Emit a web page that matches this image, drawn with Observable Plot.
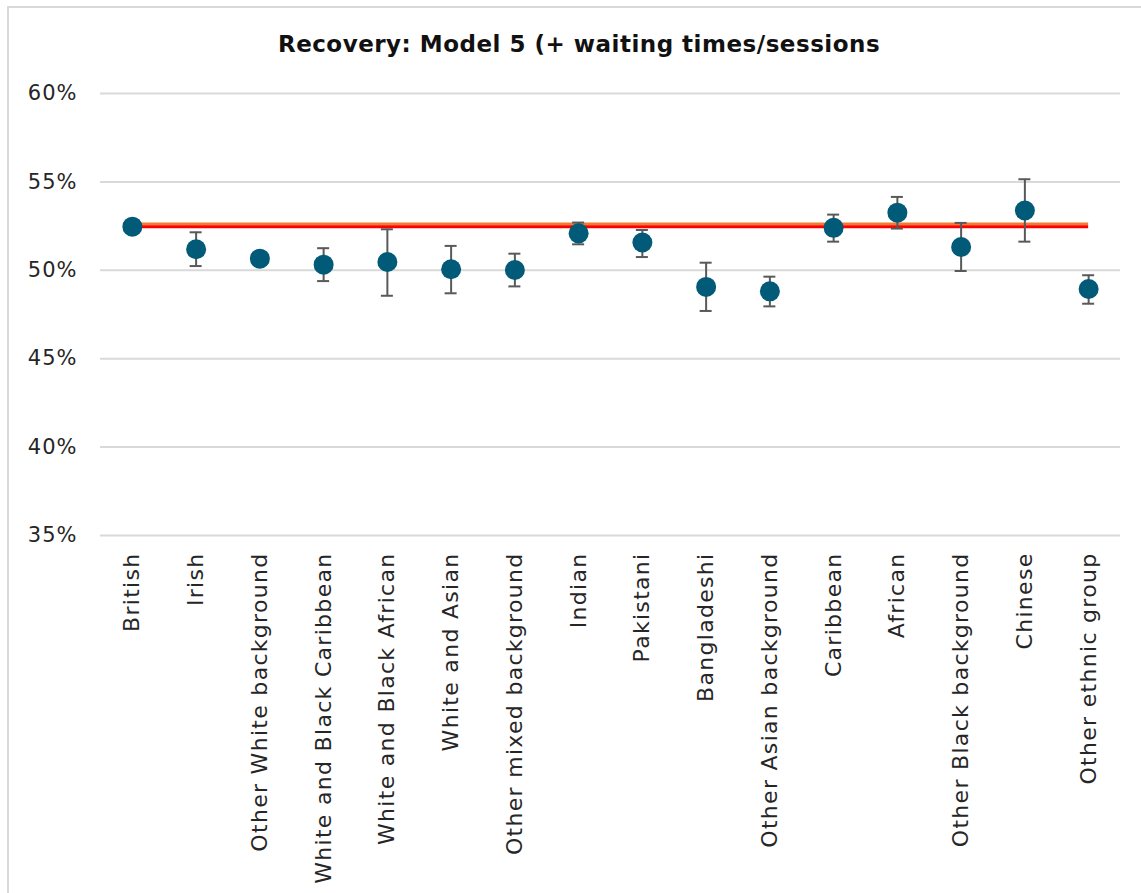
<!DOCTYPE html>
<html>
<head>
<meta charset="utf-8">
<script src="https://cdn.jsdelivr.net/npm/d3@7"></script>
<script src="https://cdn.jsdelivr.net/npm/@observablehq/plot@0.6"></script>
<style>
  html, body { margin: 0; padding: 0; background: #fff; }
  #wrap { position: relative; width: 1141px; height: 893px; overflow: hidden; background: #fff; }
  #frame { position: absolute; left: 7px; top: 6px; width: 1300px; height: 1000px; border: 2px solid #d9d9d9; box-sizing: border-box; }
  #title { position: absolute; left: 0; width: 1158px; top: 31px; text-align: center; font-family: "DejaVu Sans", sans-serif; font-weight: bold; font-size: 23px; letter-spacing: 0.5px; color: #111; }
  #chart { position: absolute; left: 0; top: 0; }
  g[aria-label="x-axis tick label"] text { letter-spacing: 1.3px; }
  g[aria-label="y-axis tick label"] text { letter-spacing: 1px; }
</style>
</head>
<body>
<div id="wrap">
  <div id="frame"></div>
  <div id="chart"></div>
  <div id="title">Recovery: Model 5 (+ waiting times/sessions</div>
</div>
<script>
const categories = [
  "British", "Irish", "Other White background", "White and Black Caribbean",
  "White and Black African", "White and Asian", "Other mixed background",
  "Indian", "Pakistani", "Bangladeshi", "Other Asian background",
  "Caribbean", "African", "Other Black background", "Chinese", "Other ethnic group"
];
const estimates = [52.47, 51.19, 50.66, 50.32, 50.47, 50.06, 50.02, 52.09, 51.57, 49.06, 48.81, 52.40, 53.26, 51.32, 53.38, 48.94];
const lower    = [52.40, 50.24, 50.45, 49.39, 48.56, 48.70, 49.09, 51.47, 50.75, 47.70, 47.96, 51.62, 52.36, 49.96, 51.62, 48.11];
const upper    = [52.54, 52.15, 50.88, 51.25, 52.32, 51.38, 50.94, 52.70, 52.28, 50.43, 49.64, 53.15, 54.15, 52.68, 55.15, 49.72];
const referenceOrange = 52.62;
const referenceRed = 52.47;
const yTicks = [35, 40, 45, 50, 55, 60];

const data = categories.map((c, i) => ({category: c, est: estimates[i], lo: lower[i], hi: upper[i]}));
const firstCat = () => categories[0];
const lastCat = () => categories[categories.length - 1];

const chart = Plot.plot({
  width: 1141,
  height: 893,
  marginLeft: 100,
  marginRight: 21,
  marginTop: 93,
  marginBottom: 358,
  style: {fontFamily: "DejaVu Sans, sans-serif", color: "#262626", background: "transparent", overflow: "visible"},
  x: {type: "point", domain: categories, padding: 0.5, round: false},
  y: {domain: [35, 60]},
  marks: [
    Plot.gridY(yTicks, {stroke: "#d9d9d9", strokeOpacity: 1, strokeWidth: 2}),
    Plot.axisY(yTicks, {tickFormat: d => d + "%", label: null, tickSize: 0, tickPadding: 23, fontSize: 21}),
    Plot.axisX({label: null, tickSize: 0, tickRotate: -90, tickPadding: 17, fontSize: 22}),
    Plot.ruleY([referenceOrange], {x1: firstCat, x2: lastCat, stroke: "#ED7D31", strokeWidth: 3}),
    Plot.ruleY([referenceRed], {x1: firstCat, x2: lastCat, stroke: "#FF0000", strokeWidth: 3}),
    Plot.ruleX(data, {x: "category", y1: "lo", y2: "hi", stroke: "#595959", strokeWidth: 2}),
    Plot.ruleY(data, {y: "lo", x1: "category", x2: "category", insetLeft: -6, insetRight: -6, stroke: "#595959", strokeWidth: 2}),
    Plot.ruleY(data, {y: "hi", x1: "category", x2: "category", insetLeft: -6, insetRight: -6, stroke: "#595959", strokeWidth: 2}),
    Plot.dot(data, {x: "category", y: "est", r: 10, fill: "#005A78", stroke: "none"})
  ]
});
document.getElementById("chart").appendChild(chart);
</script>
</body>
</html>
